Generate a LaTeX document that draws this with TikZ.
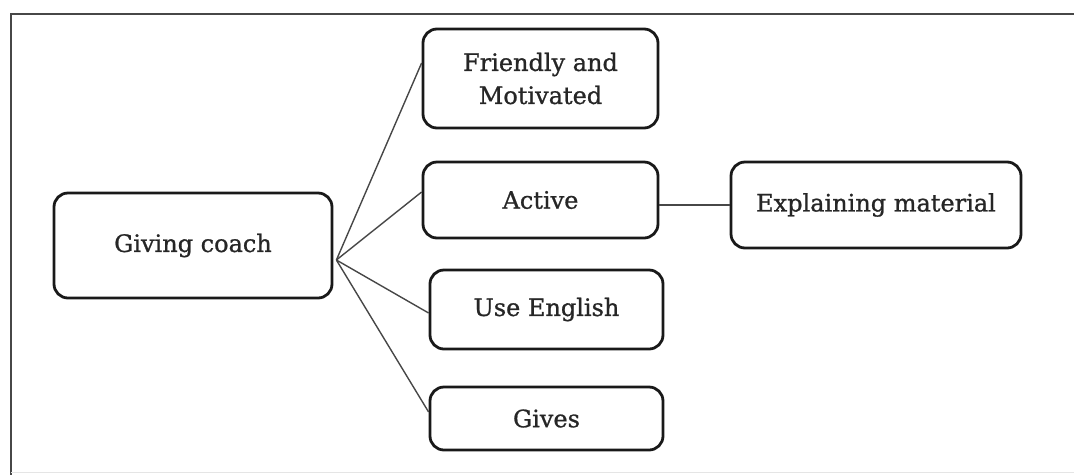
\documentclass[tikz,border=0pt]{standalone}
\usepackage{fontspec}
\setmainfont[FakeBold=0.9]{DejaVu Serif}
\begin{document}
\begin{tikzpicture}[x=1pt,y=-1pt,
  box/.style={draw=black!90, line width=2.8pt, rounded corners=14pt,
    fill=white, align=center, text=black!85, inner sep=0pt,
    font=\fontsize{24}{33}\selectfont},
  link/.style={draw=black!72, line width=1.4pt},
  frame/.style={draw=black!72, line width=2.2pt}]
  \useasboundingbox (0,0) rectangle (1074,475);
  % page frame (top and left rules)
  \draw[frame] (1074,14) -- (11,14) -- (11,475);
  \draw[draw=black!10, line width=1pt] (11,472.5) -- (1074,472.5);

  % nodes
  \node[box, minimum width=278pt, minimum height=105pt] (gc) at (193,245.5) {Giving coach};
  \node[box, minimum width=235pt, minimum height=99pt] (fm) at (540.5,78.5) {Friendly and\\Motivated};
  \node[box, minimum width=235pt, minimum height=76pt] (act) at (540.5,200) {Active};
  \node[box, minimum width=233pt, minimum height=79pt] (ue) at (546.5,309.5) {Use English};
  \node[box, minimum width=233pt, minimum height=63pt] (gv) at (546.5,418.5) {Gives};
  \node[box, minimum width=290pt, minimum height=86pt] (ex) at (876,205) {Explaining material};

  % fan of connectors from the central box
  \coordinate (hub) at ([xshift=3pt,yshift=-14.5pt]gc.east);
  \draw[link] (hub) -- ([yshift=15.5pt]fm.west);
  \draw[link] (hub) -- ([yshift=8pt]act.west);
  \draw[link] (hub) -- ([yshift=-3.5pt]ue.west);
  \draw[link] (hub) -- ([yshift=6.5pt]gv.west);
  \draw[link] (ex.west) -- (ex.west -| act.east);
\end{tikzpicture}
\end{document}
